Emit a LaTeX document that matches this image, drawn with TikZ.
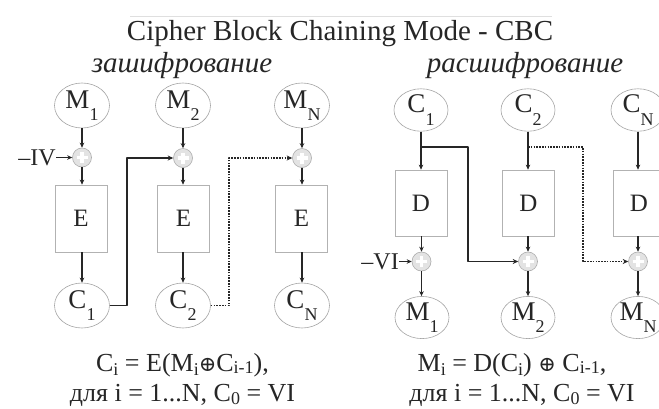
\documentclass[tikz,border=0pt]{standalone}
\usepackage{fontspec}
\setmainfont{Liberation Serif}
\newfontfamily\symf{DejaVu Serif}
\usetikzlibrary{arrows.meta,shapes.geometric}
\newcommand\lsub[2][-0.45em]{\raisebox{#1}{\fontsize{18}{18}\selectfont #2}}
\begin{document}
\begin{tikzpicture}[x=1pt,y=-1pt,
  txt/.style={text=black!85, inner sep=0pt},
  ell/.style={ellipse, draw=gray!70, line width=0.6pt, minimum width=55pt, minimum height=45pt, inner sep=0pt, text=black!85, font=\fontsize{27}{27}\selectfont},
  dell/.style={ell, minimum width=54pt, minimum height=42pt},
  blk/.style={draw=gray!60, line width=0.7pt, minimum width=52pt, minimum height=67pt, inner sep=0pt, text=black!85, font=\fontsize{25}{25}\selectfont},
  dblk/.style={blk, minimum height=66pt},
  xorn/.style={circle, minimum size=19pt, inner sep=0pt, fill=gray!22, draw=gray!65, line width=0.6pt,
     path picture={\draw[white, line width=3.6pt] (path picture bounding box.center) +(-5.5pt,0pt) -- +(5.5pt,0pt) +(0pt,-5.5pt) -- +(0pt,5.5pt);}},
  arr/.style={-{Stealth[length=5pt,width=4.5pt]}, line width=1.1pt, draw=black!85},
  chain/.style={-{Stealth[length=5.5pt,width=5pt]}, line width=1.8pt, draw=black!85, line join=round},
  dchain/.style={chain, line width=1.5pt, dash pattern=on 1.6pt off 1.2pt},
  formula/.style={txt, align=center, font=\fontsize{26}{30}\selectfont}
]
\clip (0,0) rectangle (659,408);
\useasboundingbox (0,0) rectangle (659,408);
\fill[white] (0,0) rectangle (659,408);

% title
\draw[gray!25, line width=0.6pt] (130,16) -- (552,16);
\node[txt, anchor=base, font=\fontsize{29}{29}\selectfont] (title) at (340,40) {Cipher Block Chaining Mode - CBC};
\node[txt, anchor=base, font=\fontsize{29}{29}\selectfont\itshape] (enc) at (182,72) {зашифрование};
\node[txt, anchor=base, font=\fontsize{29}{29}\selectfont\itshape] (dec) at (525,72) {расшифрование};

% encryption
\node[ell] (em1) at (82,105.5) {M\lsub{1}};
\node[ell] (em2) at (183,105.5) {M\lsub{2}};
\node[ell] (emn) at (302,105.5) {M\lsub{N}};
\node[xorn] (ex1) at (82,157.5) {};
\node[xorn] (ex2) at (183,158) {};
\node[xorn] (exn) at (302,158) {};
\node[blk] (ee1) at (81,218.5) {E};
\node[blk] (ee2) at (183.5,218.5) {E};
\node[blk] (een) at (301.5,218.5) {E};
\node[ell] (ec1) at (82,305.5) {C\lsub{1}};
\node[ell] (ec2) at (183,305.5) {C\lsub{2}};
\node[ell] (ecn) at (302,305.5) {C\lsub{N}};
\node[txt, anchor=east, font=\fontsize{24}{24}\selectfont] (iv) at (56,157.5) {–IV};

\foreach \i in {1,2,n}{
  \draw[arr] (em\i.south) -- (ex\i.north);
  \draw[arr] (ex\i.south) -- (ee\i.north -| ex\i);
  \draw[arr] (ee\i.south -| ec\i) -- (ec\i.north);
}
\draw[arr] (iv.east) -- (ex1.west);
\coordinate (k1) at (127,0);
\coordinate (k2) at (229,0);
\draw[chain] (ec1.east) -- (k1 |- ec1.east) -- (k1 |- ex2) -- (ex2.west);
\draw[dchain] (ec2.east) -- (k2 |- ec2.east) -- (k2 |- exn) -- (exn.west);

% decryption
\node[dell] (dc1) at (421,110) {C\lsub{1}};
\node[dell] (dc2) at (528,110) {C\lsub{2}};
\node[dell] (dcn) at (638,110) {C\lsub{N}};
\node[dblk] (dd1) at (421,203) {D};
\node[dblk] (dd2) at (528.5,203) {D};
\node[dblk] (ddn) at (639,203) {D};
\node[xorn] (dx1) at (421.5,261.5) {};
\node[xorn] (dx2) at (528,261.5) {};
\node[xorn] (dxn) at (638,261.5) {};
\node[dell] (dm1) at (422,317.5) {M\lsub{1}};
\node[dell] (dm2) at (528,317.5) {M\lsub{2}};
\node[dell] (dmn) at (638,317.5) {M\lsub{N}};
\node[txt, anchor=east, font=\fontsize{24}{24}\selectfont] (vi) at (399,261.5) {–VI};

\foreach \i in {1,2,n}{
  \draw[arr] (dc\i.south) -- (dd\i.north -| dc\i);
  \draw[arr] (dd\i.south -| dx\i) -- (dx\i.north);
  \draw[arr] (dx\i.south) -- (dm\i.north -| dx\i);
}
\draw[arr] (vi.east) -- (dx1.west);
\coordinate (b1) at (421,147);
\coordinate (t1) at (468,147);
\coordinate (b2) at (528,147);
\coordinate (t2) at (583,147);
\draw[chain] (b1) -- (t1) -- (t1 |- dx2) -- (dx2.west);
\draw[dchain] (b2) -- (t2) -- (t2 |- dxn) -- (dxn.west);

% formulas
\node[formula, anchor=south] (f1) at (182.5,406.5)
  {C\lsub[-0.18em]{i} = E(M\lsub[-0.18em]{i}{\symf\fontsize{21}{21}\selectfont ⊕}C\lsub[-0.08em]{i-1}),\\
   для i = 1...N, C\lsub[-0.12em]{0} = VI};
\node[formula, anchor=south] (f2) at (522,406.5)
  {\hspace*{-20pt}M\lsub[-0.18em]{i} = D(C\lsub[-0.18em]{i}) {\symf\fontsize{21}{21}\selectfont ⊕} C\lsub[-0.08em]{i-1},\\
   для i = 1...N, C\lsub[-0.12em]{0} = VI};
\end{tikzpicture}
\end{document}
